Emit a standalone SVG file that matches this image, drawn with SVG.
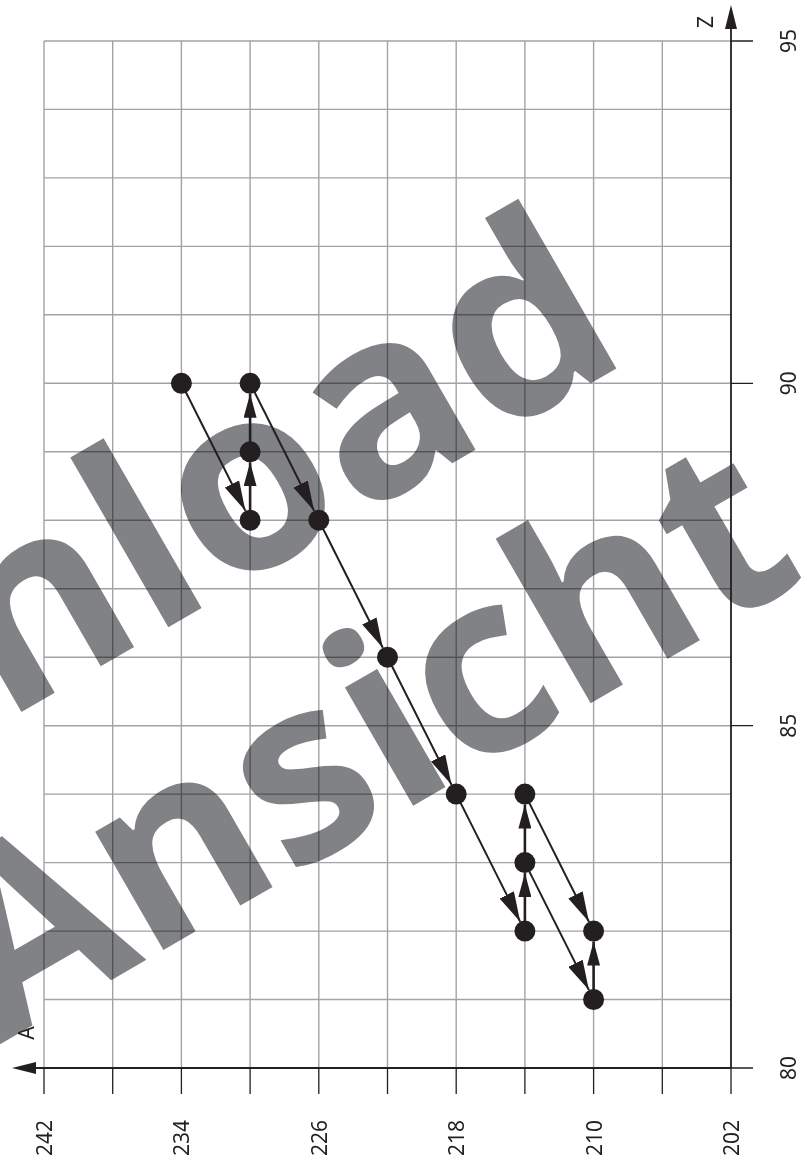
<svg xmlns="http://www.w3.org/2000/svg" width="807" height="1160" viewBox="0 0 807 1160">
<style>
.grid{stroke:#a3a3a3;stroke-width:1.4;fill:none}
.tick{stroke:#231f20;stroke-width:1.3;fill:none}
.axis{stroke:#231f20;stroke-width:1.8;fill:none}
.lbl{font-family:"Noto Sans","Open Sans",sans-serif;font-size:21px;fill:#231f20}
.wm{font-family:"Open Sans","Noto Sans",sans-serif;font-weight:700;fill:#808285;mix-blend-mode:multiply}
.cd{stroke:#231f20;stroke-width:2;fill:none;marker-end:url(#ad)}
.cv{stroke:#231f20;stroke-width:2.6;fill:none;marker-end:url(#av)}
.node{fill:#231f20}
</style>
<defs>
<marker id="ad" markerUnits="userSpaceOnUse" markerWidth="30" markerHeight="16" refX="30" refY="8" orient="auto"><path d="M0,0 L30,8 L0,16 z" fill="#231f20"/></marker>
<marker id="av" markerUnits="userSpaceOnUse" markerWidth="24" markerHeight="13" refX="24" refY="6.5" orient="auto"><path d="M0,0 L24,6.5 L0,13 z" fill="#231f20"/></marker>
</defs>
<rect width="807" height="1160" fill="#fff"/>
<g id="grid">
<path class="grid" d="M44,41V1068 M112.7,41V1068 M181.4,41V1068 M250.1,41V1068 M318.8,41V1068 M387.5,41V1068 M456.2,41V1068 M524.9,41V1068 M593.6,41V1068 M662.3,41V1068"/>
<path class="grid" d="M44,41H731 M44,109.4H731 M44,177.9H731 M44,246.4H731 M44,314.8H731 M44,383.3H731 M44,451.8H731 M44,520.2H731 M44,588.7H731 M44,657.2H731 M44,725.7H731 M44,794.1H731 M44,862.6H731 M44,931.1H731 M44,999.5H731"/>
</g>
<g id="watermark">
<text class="wm" font-size="258" transform="translate(4,722) rotate(-30)">nload</text>
<text class="wm" font-size="250" transform="translate(-3,1046) rotate(-30)">Ansicht</text>
</g>
<g id="axes">
<path class="tick" d="M44,1068V1094 M112.7,1068V1094 M181.4,1068V1094 M250.1,1068V1094 M318.8,1068V1094 M387.5,1068V1094 M456.2,1068V1094 M524.9,1068V1094 M593.6,1068V1094 M662.3,1068V1094 M731,1068V1094"/>
<path class="tick" d="M731,41H753 M731,383.3H753 M731,725.7H753 M731,1068H753"/>
<path class="axis" d="M32,1068H731 M731,28V1068"/>
<path d="M12,1068 L36,1062 L36,1074 z" fill="#231f20"/>
<path d="M731,5 L725,29 L737,29 z" fill="#231f20"/>
<text class="lbl" transform="translate(713,22) rotate(-90)" text-anchor="middle">Z</text>
<text class="lbl" transform="translate(34,1033) rotate(-90)" text-anchor="middle">A</text>
<text class="lbl" transform="translate(796,41) rotate(-90)" text-anchor="middle">95</text>
<text class="lbl" transform="translate(796,383.3) rotate(-90)" text-anchor="middle">90</text>
<text class="lbl" transform="translate(796,725.7) rotate(-90)" text-anchor="middle">85</text>
<text class="lbl" transform="translate(796,1068) rotate(-90)" text-anchor="middle">80</text>
<text class="lbl" transform="translate(52,1138) rotate(-90)" text-anchor="middle">242</text>
<text class="lbl" transform="translate(189.4,1138) rotate(-90)" text-anchor="middle">234</text>
<text class="lbl" transform="translate(326.8,1138) rotate(-90)" text-anchor="middle">226</text>
<text class="lbl" transform="translate(464.2,1138) rotate(-90)" text-anchor="middle">218</text>
<text class="lbl" transform="translate(601.6,1138) rotate(-90)" text-anchor="middle">210</text>
<text class="lbl" transform="translate(739,1138) rotate(-90)" text-anchor="middle">202</text>
</g>
<g id="connectors">
<path class="cd" d="M181.4,383.3L245.4,510.8"/>
<path class="cd" d="M250.1,383.3L314.1,510.8"/>
<path class="cd" d="M318.8,520.2L382.8,647.8"/>
<path class="cd" d="M387.5,657.2L451.5,784.7"/>
<path class="cd" d="M456.2,794.1L520.2,921.7"/>
<path class="cd" d="M524.9,794.1L588.9,921.7"/>
<path class="cd" d="M524.9,862.6L588.9,990.1"/>
<path class="cv" d="M250.1,520.2V462.3"/>
<path class="cv" d="M250.1,451.8V393.8"/>
<path class="cv" d="M524.9,931.1V873.1"/>
<path class="cv" d="M524.9,862.6V804.6"/>
<path class="cv" d="M593.6,999.5V941.6"/>
</g>
<g id="n1"><circle class="node" cx="181.4" cy="383.3" r="10.5"/></g>
<g id="n2"><circle class="node" cx="250.1" cy="383.3" r="10.5"/></g>
<g id="n3"><circle class="node" cx="250.1" cy="451.8" r="10.5"/></g>
<g id="n4"><circle class="node" cx="250.1" cy="520.2" r="10.5"/></g>
<g id="n5"><circle class="node" cx="318.8" cy="520.2" r="10.5"/></g>
<g id="n6"><circle class="node" cx="387.5" cy="657.2" r="10.5"/></g>
<g id="n7"><circle class="node" cx="456.2" cy="794.1" r="10.5"/></g>
<g id="n8"><circle class="node" cx="524.9" cy="931.1" r="10.5"/></g>
<g id="n9"><circle class="node" cx="524.9" cy="862.6" r="10.5"/></g>
<g id="n10"><circle class="node" cx="524.9" cy="794.1" r="10.5"/></g>
<g id="n11"><circle class="node" cx="593.6" cy="931.1" r="10.5"/></g>
<g id="n12"><circle class="node" cx="593.6" cy="999.5" r="10.5"/></g>
</svg>
